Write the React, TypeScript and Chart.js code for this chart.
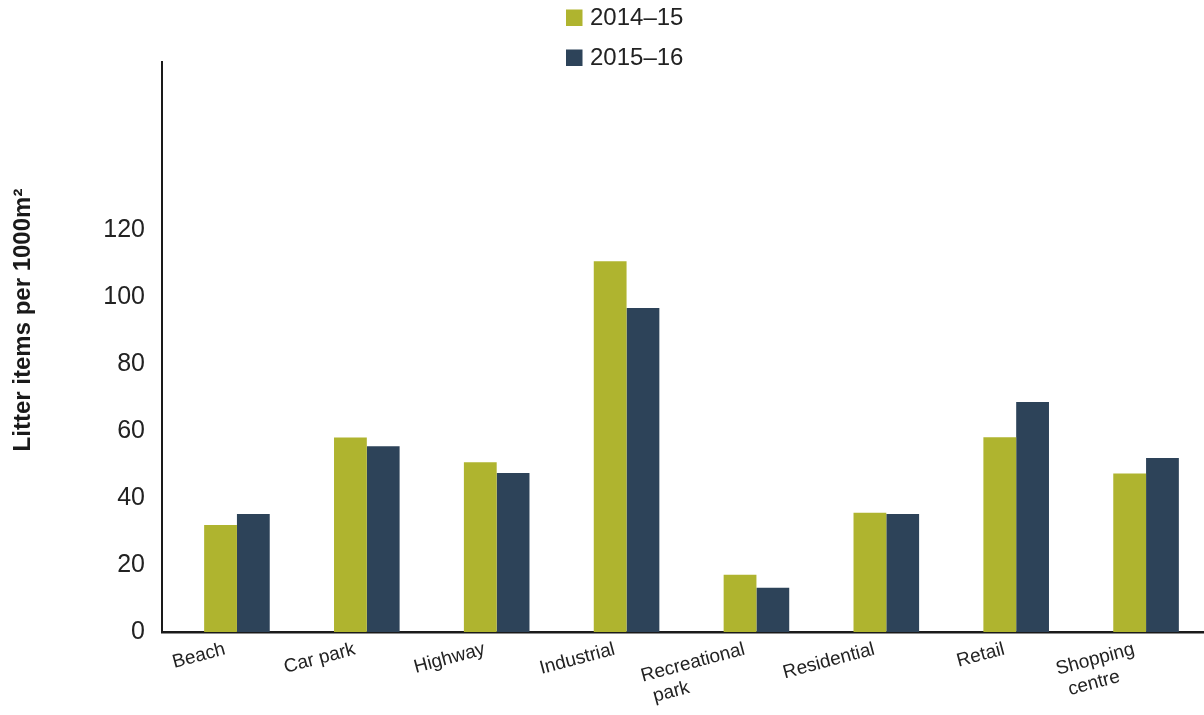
import React, { useEffect, useRef } from "react";
import { Chart, registerables } from "chart.js";

Chart.register(...registerables);

const categories: (string | string[])[] = [
  "Beach",
  "Car park",
  "Highway",
  "Industrial",
  ["Recreational", "park            "],
  "Residential",
  "Retail",
  ["Shopping", "centre    "],
];
const series2014_15 = [31.9, 58, 50.6, 110.6, 17.1, 35.6, 58.1, 47.3];
const series2015_16 = [35.2, 55.4, 47.4, 96.6, 13.2, 35.2, 68.6, 51.9];
const seriesLabels = ["2014–15", "2015–16"];
const seriesColors = ["#AFB42F", "#2D4359"];
const yTitle = "Litter items per 1000m²";
const yMax = 170;
const yLabelLimit = 120;

const FONT = "'Liberation Sans', Arial, sans-serif";

export default function App() {
  const ref = useRef<HTMLCanvasElement | null>(null);

  useEffect(() => {
    if (!ref.current) return;
    const overlay = {
      id: "overlay",
      afterLayout(chart: any) {
        // category band starts slightly right of the y-axis spine, as in the source
        const s = chart.scales.x as any;
        const start = s.left + 10;
        const end = s.right + 7;
        s._startPixel = start;
        s._endPixel = end;
        s._length = end - start;
      },
      afterDraw(chart: any) {
        const ctx = chart.ctx as CanvasRenderingContext2D;
        ctx.save();
        // y-axis title
        ctx.translate(23, 320);
        ctx.rotate(-Math.PI / 2);
        ctx.font = `bold 24px ${FONT}`;
        ctx.fillStyle = "#1a1a1a";
        ctx.textAlign = "center";
        ctx.textBaseline = "middle";
        ctx.fillText(yTitle, 0, 0);
        ctx.restore();
        // legend
        ctx.save();
        chart.data.datasets.forEach((ds: any, i: number) => {
          const y = 9.5 + i * 40;
          ctx.fillStyle = ds.backgroundColor;
          ctx.fillRect(566, y, 16.5, 16.5);
          ctx.fillStyle = "#222";
          ctx.font = `24px ${FONT}`;
          ctx.textAlign = "left";
          ctx.textBaseline = "middle";
          ctx.fillText(ds.label, 590, y + 9);
        });
        ctx.restore();
      },
    };
    const chart = new Chart(ref.current, {
      type: "bar",
      data: {
        labels: categories,
        datasets: [
          {
            label: seriesLabels[0],
            data: series2014_15,
            backgroundColor: seriesColors[0],
            categoryPercentage: 0.505,
            barPercentage: 1.0,
          },
          {
            label: seriesLabels[1],
            data: series2015_16,
            backgroundColor: seriesColors[1],
            categoryPercentage: 0.505,
            barPercentage: 1.0,
          },
        ],
      },
      options: {
        animation: false,
        responsive: true,
        maintainAspectRatio: false,
        layout: { padding: { top: 62, left: 0, right: 0, bottom: 0 } },
        plugins: {
          legend: { display: false },
          tooltip: { enabled: false },
        },
        scales: {
          x: {
            grid: { display: false, drawTicks: false },
            border: { display: true, color: "#1a1a1a", width: 2.5 },
            ticks: {
              color: "#222",
              font: { family: FONT, size: 19 },
              minRotation: 15,
              maxRotation: 15,
              padding: 6,
              labelOffset: -12,
              autoSkip: false,
            },
            afterFit: (scale: any) => {
              scale.height = 83;
            },
          },
          y: {
            min: 0,
            max: yMax,
            grid: { display: false, drawTicks: false },
            border: { display: true, color: "#1a1a1a", width: 2 },
            ticks: {
              stepSize: 20,
              color: "#222",
              padding: 17,
              font: { family: FONT, size: 25 },
              callback: (v: any) => (Number(v) <= yLabelLimit ? String(v) : ""),
            },
            afterFit: (scale: any) => {
              scale.width = 162;
            },
          },
        },
      },
      plugins: [overlay],
    });
    return () => chart.destroy();
  }, []);

  return (
    <div style={{ position: "absolute", left: 0, top: 0, width: 1204, height: 715, background: "#fff" }}>
      <canvas ref={ref} />
    </div>
  );
}
